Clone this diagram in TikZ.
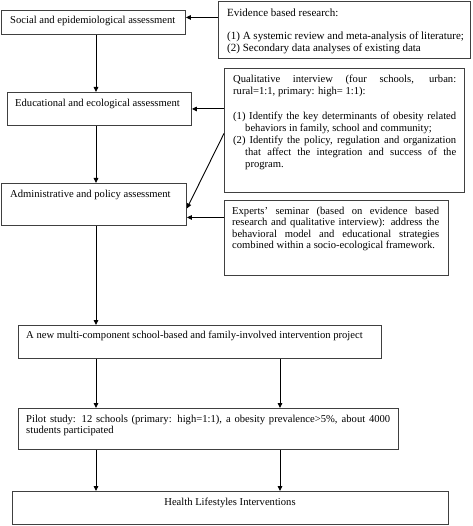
\documentclass[tikz,border=0pt]{standalone}
\usepackage{fontspec}
\setmainfont{Liberation Serif}
\usetikzlibrary{arrows.meta}
\begin{document}
\begin{tikzpicture}[x=1pt,y=-1pt,
  box/.style={draw=black!75, line width=0.9pt, anchor=north west, inner sep=0pt},
  txt/.style={inner sep=0pt, font=\fontsize{10.6}{12}\selectfont},
  par/.style={txt, anchor=north west, align=justify},
  arr/.style={-{Triangle[length=5pt,width=4.5pt]}, line width=0.9pt, draw=black}]
\useasboundingbox (0,0) rectangle (472,526);
% boxes
\node[box, minimum width=184pt, minimum height=24pt] (soc) at (1,10) {};
\node[box, minimum width=252pt, minimum height=57pt] (ev) at (218,1) {};
\node[box, minimum width=184pt, minimum height=33pt] (edu) at (7,92) {};
\node[box, minimum width=240pt, minimum height=124pt] (qual) at (224,68) {};
\node[box, minimum width=185pt, minimum height=42pt] (admin) at (1,183) {};
\node[box, minimum width=224pt, minimum height=75pt] (exp) at (224,200) {};
\node[box, minimum width=363pt, minimum height=33pt] (newp) at (18,325) {};
\node[box, minimum width=380pt, minimum height=41pt] (pilot) at (18,408) {};
\node[box, minimum width=436pt, minimum height=33pt] (health) at (12,491) {};
% texts
\node[txt, anchor=base west] (soct) at (10,24) {Social and epidemiological assessment};
\node[txt, anchor=base west] (edut) at (15,107) {Educational and ecological assessment};
\node[txt, anchor=base west] (admint) at (10,198) {Administrative and policy assessment};
\node[txt, anchor=base west] (newpt) at (26,338) {A new multi-component school-based and family-involved intervention project};
\node[txt, anchor=base] (healtht) at (230,505) {Health Lifestyles Interventions};
\node[txt, anchor=north west, align=left, font=\fontsize{11}{12}\selectfont] (evt) at (227,7.6) {\strut Evidence based research:\\[11pt]
(1) A systemic review and meta-analysis of literature;\\
(2) Secondary data analyses of existing data};
\node[par, text width=223pt] (qualt) at (233,73.6) {\parindent=0pt\strut Qualitative interview (four schools, urban:\linebreak rural=1:1, primary: high= 1:1):\par
\vspace{13pt}
\hangindent=12pt\hangafter=1 (1) Identify the key determinants of obesity related\linebreak behaviors in family, school and community;\par
\hangindent=12pt\hangafter=1 (2) Identify the policy, regulation and organization\linebreak that affect the integration and success of the\linebreak program.\par};
\node[par, text width=207pt, font=\fontsize{10.6}{11.5}\selectfont] (expt) at (232,206) {\parindent=0pt\strut Experts' seminar (based on evidence based\linebreak research and qualitative interview): address the\linebreak behavioral model and educational strategies\linebreak combined within a socio-ecological framework.};
\node[par, text width=364pt, font=\fontsize{10.6}{11.5}\selectfont] (pilott) at (26,414) {\parindent=0pt\strut Pilot study: 12 schools (primary: high=1:1), a obesity prevalence>5\%, about 4000\linebreak students participated};
% helper coordinates
\coordinate (c1) at (96,0);
\coordinate (c2) at (280,0);
\path ([yshift=5pt]soc.east) coordinate (se);
\path ([yshift=-3pt]qual.west) coordinate (qw);
\path ([yshift=-4pt]admin.east) coordinate (ae1);
\path ([yshift=-13pt]admin.east) coordinate (ae2);
% connectors
\draw[arr] (ev.west |- se) -- (se);
\draw[arr] (qual.west |- edu.east) -- (edu.east);
\draw[arr] (qw) -- (ae1);
\draw[arr] (exp.west |- ae2) -- (ae2);
\draw[arr] (soc.south -| c1) -- (edu.north -| c1);
\draw[arr] (edu.south -| c1) -- (admin.north -| c1);
\draw[arr] (admin.south -| c1) -- (newp.north -| c1);
\draw[arr] (newp.south -| c1) -- (pilot.north -| c1);
\draw[arr] (newp.south -| c2) -- (pilot.north -| c2);
\draw[arr] (pilot.south -| c1) -- (health.north -| c1);
\draw[arr] (pilot.south -| c2) -- (health.north -| c2);
\end{tikzpicture}
\end{document}
